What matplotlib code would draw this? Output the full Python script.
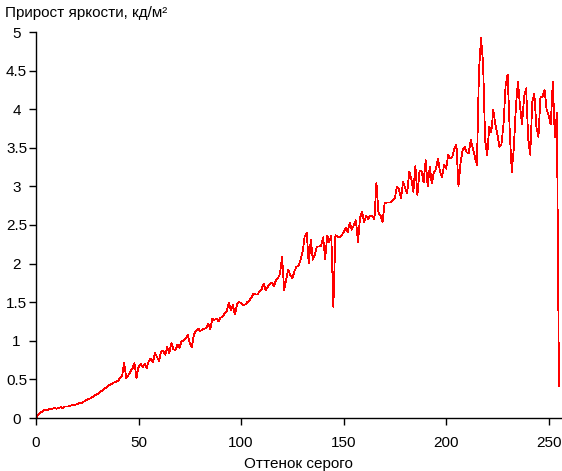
import matplotlib
matplotlib.use("Agg")
import matplotlib.pyplot as plt

plt.rcParams['font.family'] = ['Liberation Sans', 'DejaVu Sans']

# Grey level 0..255 and brightness increment (cd/m2)
gray_levels = list(range(256))
increment = [
    0.00, 0.04, 0.07, 0.08, 0.10, 0.10, 0.11, 0.12, 0.12, 0.13,
    0.12, 0.13, 0.14, 0.13, 0.15, 0.15, 0.15, 0.16, 0.17, 0.17,
    0.18, 0.19, 0.19, 0.21, 0.22, 0.24, 0.25, 0.26, 0.28, 0.30,
    0.31, 0.33, 0.35, 0.37, 0.39, 0.41, 0.43, 0.44, 0.46, 0.47,
    0.48, 0.52, 0.55, 0.71, 0.52, 0.55, 0.60, 0.64, 0.71, 0.52,
    0.66, 0.70, 0.66, 0.70, 0.65, 0.74, 0.77, 0.72, 0.84, 0.79,
    0.74, 0.86, 0.87, 0.82, 0.92, 0.84, 0.97, 0.89, 0.88, 0.95,
    0.91, 1.00, 1.00, 1.03, 1.08, 0.97, 0.92, 1.08, 1.13, 1.16,
    1.13, 1.14, 1.16, 1.16, 1.22, 1.15, 1.29, 1.27, 1.29, 1.25,
    1.30, 1.31, 1.36, 1.38, 1.49, 1.40, 1.46, 1.34, 1.47, 1.50,
    1.49, 1.46, 1.47, 1.50, 1.52, 1.56, 1.61, 1.60, 1.60, 1.64,
    1.67, 1.74, 1.65, 1.70, 1.74, 1.75, 1.71, 1.78, 1.81, 1.87,
    2.09, 1.66, 1.80, 1.92, 1.85, 1.81, 1.90, 1.96, 1.97, 2.05,
    2.15, 2.35, 2.40, 2.00, 2.31, 2.05, 2.12, 2.22, 2.22, 2.23,
    2.34, 2.06, 2.36, 2.28, 2.36, 1.44, 2.37, 2.35, 2.34, 2.36,
    2.41, 2.46, 2.41, 2.53, 2.44, 2.50, 2.56, 2.28, 2.59, 2.67,
    2.54, 2.62, 2.58, 2.62, 2.62, 2.57, 3.05, 2.66, 2.62, 2.54,
    2.78, 2.79, 2.79, 2.79, 2.82, 2.85, 3.00, 2.96, 2.85, 3.06,
    2.98, 2.91, 3.19, 3.10, 2.93, 3.26, 2.89, 3.20, 3.20, 3.05,
    3.34, 3.00, 3.25, 3.04, 3.18, 3.22, 3.36, 3.19, 3.12, 3.28,
    3.23, 3.41, 3.36, 3.38, 3.49, 3.54, 3.00, 3.30, 3.47, 3.51,
    3.44, 3.43, 3.60, 3.50, 3.38, 3.28, 4.50, 4.92, 4.60, 3.60,
    3.40, 3.77, 3.70, 3.99, 3.80, 3.67, 3.51, 3.55, 3.82, 4.31,
    4.45, 3.71, 3.19, 3.50, 4.03, 4.36, 4.05, 3.80, 4.16, 4.27,
    3.62, 3.41, 4.10, 4.20, 3.77, 3.64, 4.16, 4.16, 4.25, 3.99,
    3.92, 3.80, 4.36, 3.64, 3.95, 0.41,
]
x_ticks = [0, 50, 100, 150, 200, 250]
y_ticks = [0, 0.5, 1, 1.5, 2, 2.5, 3, 3.5, 4, 4.5, 5]
y_labels = ['0', '0.5', '1', '1.5', '2', '2.5', '3', '3.5', '4', '4.5', '5']

fig = plt.figure(figsize=(5.62, 4.71), dpi=100)
ax = fig.add_axes([36 / 562, 53 / 471, 525 / 562, 386 / 471])

ax.plot(gray_levels, increment, color='red', lw=0.55, antialiased=False)

ax.set_xlim(0, 256)
ax.set_ylim(0, 5)
ax.set_xticks(x_ticks)
ax.set_yticks(y_ticks)
ax.set_yticklabels(y_labels)

for side in ('top', 'right'):
    ax.spines[side].set_visible(False)
for side in ('left', 'bottom'):
    ax.spines[side].set_linewidth(1.0)

ax.tick_params(axis='x', length=5, width=1, pad=8, labelsize=11)
ax.tick_params(axis='y', length=5, width=1, pad=9, labelsize=11)
for lbl in ax.get_yticklabels():
    lbl.set_ha('center')

ax.set_xlabel('Оттенок серого', fontsize=11, labelpad=5)
fig.text(5 / 562, 1 - 13 / 471, 'Прирост яркости, кд/м²', fontsize=11,
         ha='left', va='center')

fig.savefig('out.png', dpi=100)
